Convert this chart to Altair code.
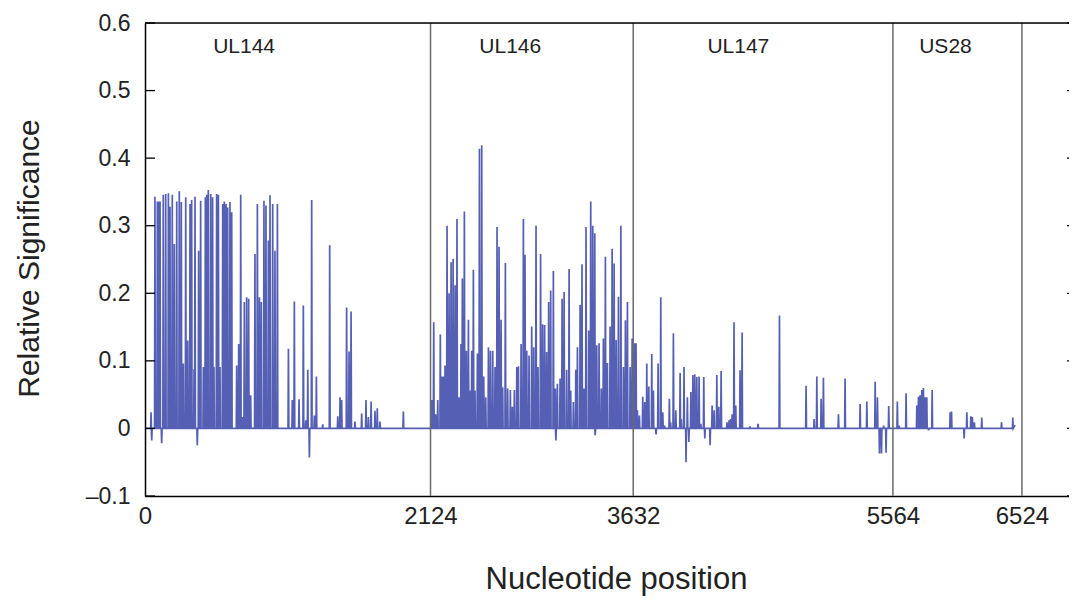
import altair as alt
import pandas as pd

# ---- data ----
ul144_pos = [45, 50, 74, 92, 102, 112, 124, 136, 154, 174, 186, 203, 218, 236, 255, 270, 285, 303,
             318, 335, 347, 365, 372, 389, 399, 414, 434, 449, 459, 471, 489, 503, 513, 533, 546,
             558, 578, 590, 603, 615, 632, 645, 682, 697, 712, 724, 739, 756, 771, 786, 818, 836,
             851, 865, 885, 900, 918, 930, 950, 967, 985, 1067, 1096, 1111, 1146, 1178, 1196, 1211,
             1223, 1240, 1260, 1275, 1322, 1374, 1434, 1451, 1463, 1500, 1518, 1533, 1562, 1612,
             1644, 1662, 1682, 1711, 1728, 1748, 1922]
ul144_val = [0.024, -0.018, 0.343, 0.336, 0.336, 0.336, -0.022, 0.346, 0.347, 0.348, 0.328, 0.346,
             0.273, 0.336, 0.351, 0.335, 0.096, 0.342, 0.130, 0.332, 0.338, 0.088, 0.343, -0.025,
             0.263, 0.337, 0.091, 0.342, 0.346, 0.353, 0.347, 0.342, 0.091, 0.347, 0.346, 0.091,
             0.332, 0.336, 0.332, 0.327, 0.335, 0.320, 0.093, 0.125, 0.346, 0.017, 0.187, 0.194,
             0.192, 0.049, 0.258, 0.332, 0.194, 0.187, 0.337, 0.330, 0.278, 0.345, 0.332, 0.263,
             0.332, 0.118, 0.042, 0.188, 0.043, 0.182, 0.012, 0.087, -0.043, 0.338, 0.019, 0.077,
             0.006, 0.271, 0.018, 0.046, 0.042, 0.179, 0.114, 0.173, 0.010, 0.022, 0.042, 0.017,
             0.040, 0.026, 0.030, 0.010, 0.025]

ul146_pos = [2133, 2148, 2163, 2178, 2197, 2207, 2220, 2232, 2247, 2262, 2277, 2292, 2307, 2321,
             2336, 2351, 2361, 2376, 2391, 2406, 2421, 2431, 2443, 2455, 2473, 2488, 2505, 2520,
             2535, 2555, 2570, 2587, 2604, 2619, 2634, 2649, 2661, 2681, 2698, 2718, 2733, 2748,
             2766, 2778, 2798, 2815, 2827, 2840, 2857, 2877, 2892, 2909, 2924, 2943, 2958, 2973,
             2988, 3003, 3018, 3038, 3053, 3057, 3068, 3088, 3103, 3118, 3137, 3155, 3167, 3187,
             3205, 3217, 3237, 3251, 3266, 3281, 3301, 3316, 3331, 3346, 3349, 3361, 3378, 3395,
             3410, 3425, 3440, 3460, 3475, 3490, 3505, 3522, 3540, 3559, 3574, 3589, 3609, 3624]
ul146_val = [0.042, 0.157, 0.021, 0.042, 0.139, 0.077, 0.077, 0.093, 0.300, 0.200, 0.246, 0.251,
             0.212, 0.310, 0.046, 0.125, 0.222, 0.321, 0.115, 0.161, 0.056, 0.115, 0.235, 0.056,
             0.111, 0.414, 0.419, 0.077, 0.046, 0.120, 0.115, 0.115, 0.091, 0.298, 0.269, 0.161,
             0.061, 0.245, 0.059, 0.057, 0.032, 0.057, 0.091, 0.092, 0.125, 0.310, 0.257, 0.115,
             0.108, 0.151, 0.120, 0.300, 0.091, 0.258, 0.154, 0.153, 0.113, 0.187, 0.204, 0.233,
             0.059, -0.018, 0.066, 0.074, 0.192, 0.202, 0.087, 0.236, 0.056, 0.039, 0.087, 0.120,
             0.183, 0.243, 0.059, 0.298, 0.145, 0.336, 0.300, 0.289, -0.010, 0.123, 0.126, 0.059,
             0.133, 0.254, 0.097, 0.151, 0.266, 0.244, 0.131, 0.195, 0.300, 0.091, 0.160, 0.187,
             0.091, 0.133]

ul147_pos = [3641, 3653, 3663, 3678, 3703, 3718, 3733, 3748, 3770, 3782, 3802, 3817, 3837, 3852,
             3865, 3901, 3910, 3931, 3949, 3981, 3990, 4010, 4025, 4035, 4046, 4061, 4076, 4090,
             4105, 4122, 4135, 4157, 4165, 4204, 4219, 4234, 4254, 4269, 4286, 4330, 4345, 4357,
             4368, 4382, 4395, 4427, 4442, 4500, 4561, 4720, 4918, 4978, 4998, 5030, 5047, 5159,
             5208, 5320, 5370, 5432, 5449, 5464, 5479, 5495, 5513, 5533]
ul147_val = [0.126, 0.126, 0.027, 0.019, 0.047, 0.039, 0.096, 0.062, 0.110, 0.056, -0.009, 0.096,
             0.194, 0.024, 0.004, 0.044, 0.009, 0.141, 0.027, 0.082, 0.014, 0.091, -0.050, 0.046,
             -0.020, 0.054, 0.079, 0.080, 0.076, 0.077, 0.007, 0.076, -0.015, -0.025, 0.034, 0.027,
             0.079, 0.032, 0.085, 0.009, 0.012, 0.014, 0.021, 0.157, 0.034, 0.086, 0.142, 0.003,
             0.007, 0.167, 0.063, 0.014, 0.077, 0.044, 0.075, 0.021, 0.074, 0.036, 0.040, 0.069,
             0.046, -0.037, -0.037, 0.004, -0.036, 0.033]

us28_pos = [5597, 5610, 5662, 5742, 5754, 5766, 5779, 5791, 5803, 5816, 5830, 5856, 5990, 6000,
            6094, 6114, 6144, 6155, 6170, 6225, 6372, 6456]
us28_val = [0.040, 0.004, 0.052, 0.034, 0.047, 0.049, 0.057, 0.060, 0.046, 0.046, -0.003, 0.057,
            0.024, 0.025, -0.015, 0.024, 0.018, 0.017, 0.009, 0.016, 0.009, 0.016]

end_pos, end_val = 6473, 0.005

boundaries = [2124, 3632, 5564, 6524]
x_tick_values = [0, 2124, 3632, 5564, 6524]
y_tick_values = [-0.1, 0.0, 0.1, 0.2, 0.3, 0.4, 0.5, 0.6]
gene_names = ["UL144", "UL146", "UL147", "US28"]
gene_label_pos = [737, 2717, 4414, 5955]

# ---- build tables ----
pairs = sorted(zip(ul144_pos + ul146_pos + ul147_pos + us28_pos,
                   ul144_val + ul146_val + ul147_val + us28_val))
xs, ys = [0], [0.0]
for p, v in pairs:
    xs += [p - 3, p, p + 3]
    ys += [0.0, v, 0.0]
xs.append(end_pos)
ys.append(end_val)
line_df = pd.DataFrame({"pos": xs, "sig": ys, "i": list(range(len(xs)))})
bound_df = pd.DataFrame({"pos": boundaries})
ytick_df = pd.DataFrame({"sig": y_tick_values})
gene_df = pd.DataFrame({"pos": gene_label_pos, "gene": gene_names})
one_df = pd.DataFrame({"k": [0]})

W, H = 924, 473
FONT = "Liberation Sans"
TXT = "#222222"
xscale = alt.Scale(domain=[0, 6874], nice=False, zero=False)
yscale = alt.Scale(domain=[-0.1, 0.6], nice=False, zero=False)

ylabel = ("datum.value < -0.0001 ? '\u2013' + format(-datum.value, '.1f') : "
          "(abs(datum.value) < 0.0001 ? '0' : format(datum.value, '.1f'))")

x_axis = alt.Axis(values=x_tick_values, title="Nucleotide position", ticks=False,
                  grid=False, labelFlush=False, labelFontSize=24, labelFont=FONT,
                  labelColor=TXT, labelPadding=8, domainColor="black", domainWidth=1.5,
                  titleFont=FONT, titleFontSize=31, titleFontWeight="normal",
                  titleColor=TXT, titleX=471, titleY=92, titleBaseline="alphabetic",
                  titleAlign="center", format="d")
y_axis = alt.Axis(values=y_tick_values, title="Relative Significance", ticks=False,
                  grid=False, labelFlush=False, labelFontSize=23, labelFont=FONT,
                  labelColor=TXT, labelPadding=15, labelExpr=ylabel,
                  domainColor="black", domainWidth=1.5,
                  titleFont=FONT, titleFontSize=30, titleFontWeight="normal",
                  titleColor=TXT, titleX=-116, titleY=235, titleAngle=270,
                  titleBaseline="middle", titleAlign="center")

line = alt.Chart(line_df).mark_line(color="#3d4aab", strokeWidth=1.7, opacity=0.88).encode(
    x=alt.X("pos:Q", scale=xscale, axis=x_axis),
    y=alt.Y("sig:Q", scale=yscale, axis=y_axis),
    order="i:Q",
)

bounds = alt.Chart(bound_df).mark_rule(color="#6a6a6a", strokeWidth=1.5).encode(
    x=alt.X("pos:Q", scale=xscale, axis=x_axis)
)

left_ticks = alt.Chart(ytick_df).mark_rule(color="black", strokeWidth=1.3).encode(
    y=alt.Y("sig:Q", scale=yscale, axis=y_axis), x=alt.value(0), x2=alt.value(10)
)
right_ticks = alt.Chart(ytick_df).mark_rule(color="black", strokeWidth=1.3).encode(
    y=alt.Y("sig:Q", scale=yscale, axis=y_axis), x=alt.value(W - 2), x2=alt.value(W)
)

top_border = alt.Chart(one_df).mark_rule(color="black", strokeWidth=1.5).encode(
    x=alt.value(0), x2=alt.value(W), y=alt.value(0)
)

genes = alt.Chart(gene_df).mark_text(font=FONT, fontSize=21, color=TXT,
                                     baseline="middle", align="center").encode(
    x=alt.X("pos:Q", scale=xscale, axis=x_axis), y=alt.value(24), text="gene:N"
)

chart = alt.layer(line, bounds, left_ticks, right_ticks, top_border, genes).properties(
    width=W, height=H, autosize="none",
    padding={"left": 137, "top": 15, "right": 0, "bottom": 100},
).configure_view(stroke=None).configure(background="white")

chart.save("out.html", embed_options={"renderer": "svg", "actions": False})
